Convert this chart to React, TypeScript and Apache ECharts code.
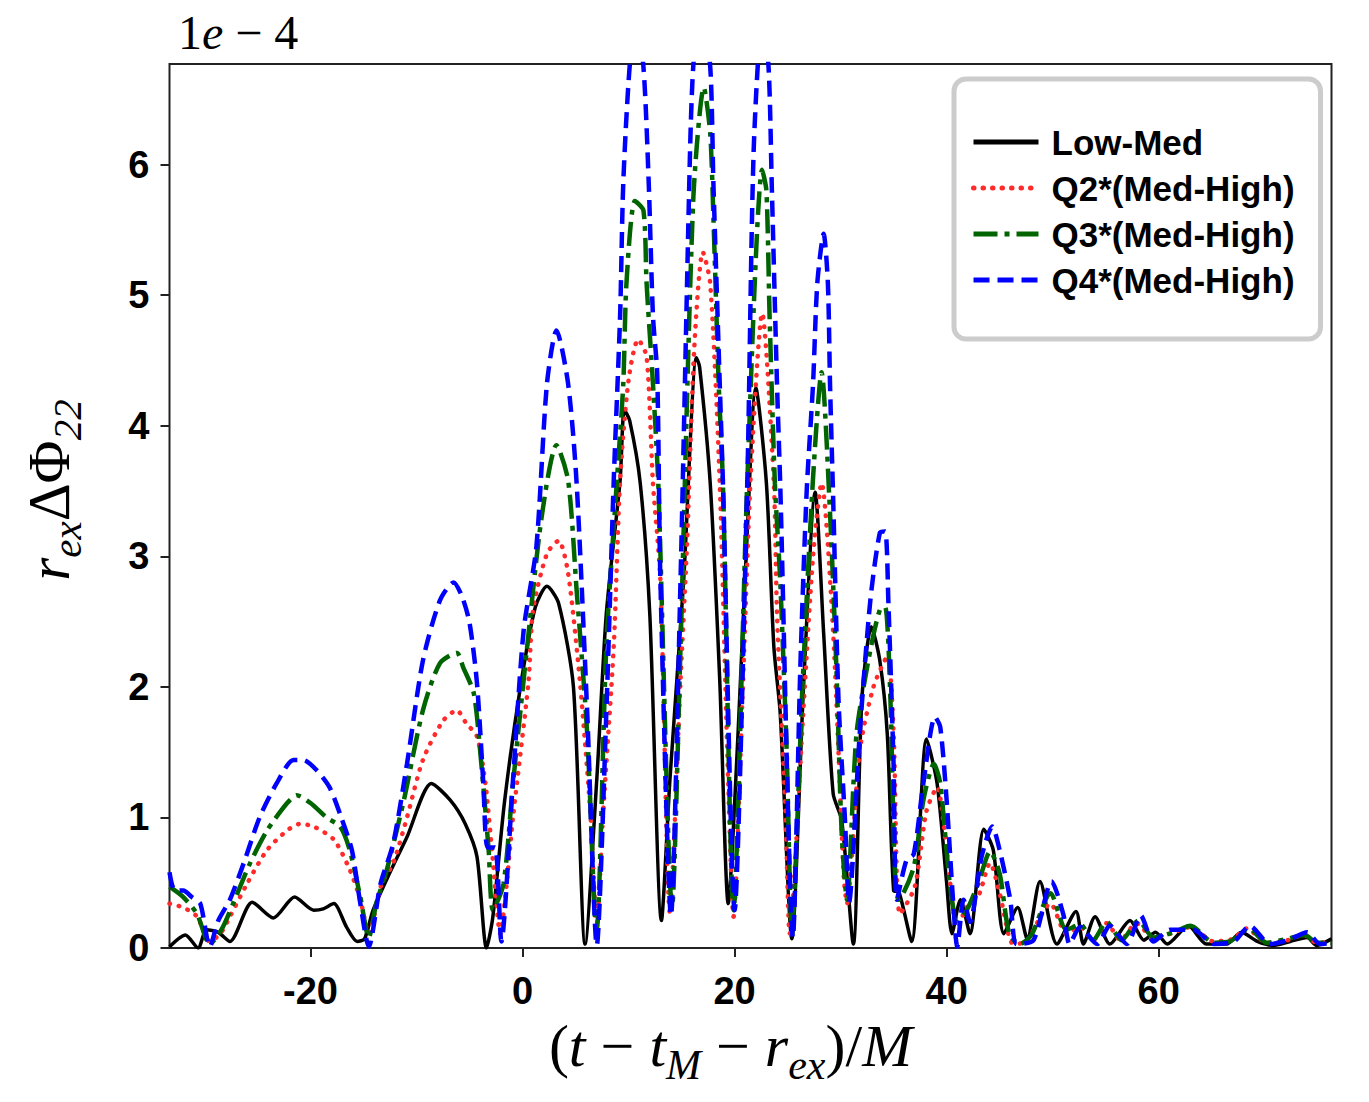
import React, { useEffect, useRef } from "react";
import * as echarts from "echarts";

// ---- data (t in M, value in units of 1e-4) ----
const lowMedT = [-33.3, -31.8, -30.6, -29.8, -28.7, -27.6, -25.5, -23.5, -21.5, -19.7, -18.8, -17.8, -16.6, -15.6, -14.9, -14.1, -12.5, -10.9, -8.6, -6.8, -5.4, -4.3, -3.4, -2.8, -1.7, -0.2, 1.2, 2.3, 3.4, 4.8, 5.9, 7.0, 7.9, 9.2, 9.6, 10.1, 11.1, 12.0, 13.1, 13.9, 15.2, 16.4, 16.7, 17.7, 18.6, 19.4, 20.3, 21.2, 22.0, 23.0, 23.7, 24.3, 25.4, 26.5, 27.6, 28.4, 29.3, 30.1, 31.2, 32.0, 32.9, 33.7, 34.4, 35.0, 35.5, 36.7, 38.1, 39.1, 40.0, 40.5, 41.3, 42.2, 43.5, 44.4, 45.4, 46.7, 47.6, 48.8, 50.4, 52.2, 52.9, 54.0, 55.4, 57.3, 58.6, 59.7, 60.8, 62.8, 64.5, 66.4, 67.8, 69.3, 70.8, 72.4, 74.0, 74.9, 76.3];
const lowMedV = [0.01, 0.1, 0.0, 0.14, 0.12, 0.05, 0.35, 0.23, 0.39, 0.29, 0.3, 0.34, 0.16, 0.05, 0.07, 0.29, 0.58, 0.85, 1.26, 1.13, 0.95, 0.7, 0.0, 0.24, 1.12, 2.0, 2.61, 2.77, 2.64, 2.0, 0.03, 1.29, 2.56, 3.58, 4.12, 4.04, 3.56, 2.56, 0.21, 1.29, 2.82, 4.52, 4.45, 3.56, 2.05, 0.34, 1.6, 3.2, 4.29, 3.56, 2.31, 1.8, 0.07, 2.0, 3.49, 2.41, 1.18, 0.98, 0.03, 1.9, 2.46, 2.2, 1.64, 0.44, 0.43, 0.05, 1.6, 1.26, 0.5, 0.11, 0.37, 0.11, 0.91, 0.75, 0.11, 0.31, 0.07, 0.51, 0.03, 0.28, 0.03, 0.24, 0.03, 0.21, 0.06, 0.12, 0.03, 0.17, 0.03, 0.03, 0.12, 0.05, 0.02, 0.05, 0.08, 0.02, 0.07];

const q2T = [-33.3, -32.0, -30.7, -29.5, -28.5, -27.6, -26.0, -24.1, -22.2, -21.0, -19.7, -17.8, -16.3, -15.3, -14.5, -14.1, -13.3, -12.2, -10.9, -9.4, -7.5, -6.2, -5.3, -4.3, -3.5, -2.8, -2.1, -1.65, -0.9, 0.55, 1.0, 2.3, 3.4, 4.3, 5.4, 6.4, 7.0, 7.6, 8.6, 9.2, 10.0, 10.9, 11.7, 12.3, 13.0, 13.9, 14.9, 15.5, 16.2, 17.0, 17.7, 18.6, 19.3, 19.9, 20.8, 21.5, 22.6, 23.7, 24.0, 24.8, 25.2, 26.4, 27.4, 28.2, 29.3, 30.3, 30.6, 31.8, 33.1, 34.4, 35.0, 35.6, 37.0, 38.1, 39.1, 40.0, 41.0, 41.9, 43.0, 44.1, 45.0, 46.3, 47.5, 49.8, 51.3, 52.6, 53.8, 55.1, 56.4, 57.9, 59.5, 61.1, 63.0, 65.2, 67.0, 68.3, 70.2, 71.8, 73.7, 74.9, 76.3];
const q2V = [0.34, 0.31, 0.24, 0.05, 0.11, 0.24, 0.49, 0.75, 0.9, 0.95, 0.93, 0.83, 0.6, 0.37, 0.11, 0.21, 0.49, 0.65, 1.0, 1.44, 1.74, 1.82, 1.72, 1.62, 1.26, 0.67, 0.11, 0.37, 1.0, 2.03, 2.59, 3.02, 3.12, 2.87, 2.05, 1.03, 0.19, 1.03, 2.31, 3.58, 4.35, 4.66, 4.53, 3.56, 2.82, 0.27, 2.05, 3.07, 4.6, 5.33, 5.09, 3.56, 1.54, 0.24, 2.05, 3.58, 4.86, 3.56, 2.56, 1.03, 0.11, 1.7, 3.0, 3.56, 2.41, 0.54, 0.34, 1.51, 2.0, 2.23, 1.64, 0.26, 0.47, 1.05, 1.23, 0.75, 0.16, 0.31, 0.4, 0.65, 0.42, 0.03, 0.05, 0.34, 0.11, 0.16, 0.06, 0.19, 0.06, 0.19, 0.08, 0.11, 0.16, 0.05, 0.07, 0.15, 0.04, 0.05, 0.1, 0.04, 0.05];

const q3T = [-33.3, -32.0, -30.7, -29.5, -28.4, -27.3, -25.7, -24.1, -22.2, -21.3, -20.0, -18.5, -17.2, -16.3, -15.3, -14.5, -13.8, -12.8, -11.2, -9.4, -7.8, -6.2, -5.6, -4.6, -4.0, -3.2, -2.8, -1.8, -0.9, 0.4, 1.8, 3.2, 4.3, 5.1, 6.1, 6.8, 7.0, 7.9, 8.9, 9.5, 9.8, 10.6, 11.4, 11.7, 12.3, 12.8, 14.1, 14.9, 16.1, 17.1, 17.7, 18.0, 18.5, 18.9, 19.9, 21.2, 22.6, 23.0, 23.3, 23.8, 24.3, 24.9, 25.4, 26.4, 27.4, 28.2, 29.0, 29.6, 30.1, 30.6, 31.5, 32.8, 33.7, 34.2, 34.7, 35.1, 35.5, 36.9, 37.8, 38.8, 39.4, 40.3, 41.0, 41.9, 43.0, 44.1, 45.0, 45.9, 46.9, 48.0, 49.8, 51.3, 52.6, 53.8, 55.1, 56.5, 58.1, 59.5, 61.4, 63.0, 65.2, 66.7, 68.5, 70.2, 72.1, 73.8, 74.9, 76.3];
const q3V = [0.47, 0.39, 0.26, 0.03, 0.14, 0.34, 0.65, 0.9, 1.11, 1.17, 1.11, 1.0, 0.93, 0.75, 0.39, 0.08, 0.34, 0.6, 1.13, 1.82, 2.18, 2.26, 2.15, 1.95, 1.51, 0.75, 0.29, 0.49, 1.26, 2.28, 3.3, 3.85, 3.58, 2.74, 1.64, 0.27, 0.15, 2.31, 3.58, 4.32, 5.09, 5.72, 5.65, 5.09, 4.32, 3.56, 0.31, 2.31, 5.73, 6.59, 6.24, 5.6, 4.32, 3.56, 0.29, 3.58, 5.96, 5.8, 4.84, 3.56, 2.82, 1.54, 0.14, 2.0, 3.6, 4.41, 3.33, 2.15, 0.88, 0.37, 1.64, 2.28, 2.59, 2.61, 1.9, 0.62, 0.37, 0.62, 1.13, 1.41, 1.26, 0.49, 0.21, 0.29, 0.5, 0.74, 0.57, 0.11, 0.03, 0.1, 0.42, 0.14, 0.18, 0.06, 0.2, 0.06, 0.21, 0.08, 0.12, 0.17, 0.04, 0.05, 0.15, 0.04, 0.07, 0.1, 0.04, 0.04];

const q4T = [-33.3, -32.8, -32.0, -31.2, -30.4, -29.5, -28.7, -27.6, -26.3, -24.8, -23.2, -21.6, -20.7, -19.4, -18.2, -17.1, -16.1, -15.3, -14.5, -13.4, -12.2, -10.9, -9.4, -7.8, -6.5, -5.7, -5.0, -4.3, -3.7, -3.3, -2.6, -2.0, -0.9, 0.1, 1.3, 2.3, 3.2, 4.3, 5.1, 6.1, 7.0, 7.9, 8.6, 9.2, 9.5, 10.1, 10.7, 11.4, 11.9, 12.3, 12.7, 13.0, 14.0, 14.9, 15.8, 16.1, 16.8, 17.7, 18.0, 18.6, 18.9, 20.0, 21.2, 21.8, 22.6, 23.2, 23.5, 24.0, 24.3, 25.5, 26.2, 26.8, 27.4, 27.8, 28.4, 28.8, 29.0, 29.3, 29.8, 30.4, 30.8, 31.8, 32.8, 33.7, 34.2, 34.5, 35.0, 35.3, 36.2, 36.9, 37.8, 38.9, 39.4, 40.0, 40.6, 41.0, 41.6, 42.2, 43.3, 44.3, 45.0, 46.0, 46.6, 48.2, 49.9, 51.0, 51.6, 52.6, 54.2, 55.4, 57.0, 58.3, 59.5, 61.1, 63.3, 65.2, 67.1, 68.6, 70.5, 72.2, 74.0, 75.2, 76.3];
const q4V = [0.58, 0.44, 0.44, 0.39, 0.34, 0.01, 0.21, 0.37, 0.65, 1.0, 1.26, 1.44, 1.44, 1.36, 1.23, 1.0, 0.75, 0.34, 0.01, 0.49, 0.8, 1.41, 2.2, 2.66, 2.8, 2.69, 2.49, 2.03, 1.26, 0.77, 0.77, 0.05, 1.29, 2.43, 3.07, 4.32, 4.73, 4.32, 3.56, 1.8, 0.02, 1.8, 3.58, 4.84, 5.86, 6.75, 7.1, 6.75, 5.86, 4.84, 4.4, 2.82, 0.25, 2.82, 6.11, 6.75, 7.3, 6.75, 5.86, 4.32, 3.56, 0.29, 3.58, 6.11, 7.1, 6.75, 5.86, 4.32, 3.56, 0.08, 2.15, 3.5, 4.32, 5.09, 5.47, 5.09, 4.32, 3.43, 1.9, 1.0, 0.35, 1.64, 2.66, 3.18, 3.19, 2.66, 1.39, 0.37, 0.67, 0.72, 1.26, 1.77, 1.69, 1.13, 0.37, 0.01, 0.37, 0.2, 0.7, 0.93, 0.75, 0.37, 0.03, 0.06, 0.51, 0.26, 0.03, 0.16, 0.03, 0.17, 0.03, 0.25, 0.05, 0.14, 0.14, 0.03, 0.05, 0.17, 0.03, 0.06, 0.12, 0.03, 0.04];

const seriesNames = ["Low-Med", "Q2*(Med-High)", "Q3*(Med-High)", "Q4*(Med-High)"];
const xTicks = [-20, 0, 20, 40, 60];
const yTicks = [0, 1, 2, 3, 4, 5, 6];
const xRange = [-33.3, 76.3];
const yRange = [0, 6.77];

const pairs = (t: number[], v: number[]) => t.map((x, i) => [x, v[i]]);

const SANS = "'Liberation Sans', Arial, Helvetica, sans-serif";
const SERIF = "'Liberation Serif', 'Times New Roman', serif";

export default function App() {
  const ref = useRef<HTMLDivElement>(null);
  useEffect(() => {
    if (!ref.current) return;
    const chart = echarts.init(ref.current, null, { renderer: "svg" });
    const mathRich = (size: number, sub: number, shift: number) => ({
      n: { fontFamily: SERIF, fontSize: size, fontStyle: "normal", color: "#000" },
      i: { fontFamily: SERIF, fontSize: size, fontStyle: "italic", color: "#000" },
      s: { fontFamily: SERIF, fontSize: sub, fontStyle: "italic", color: "#000", padding: [shift, 0, 0, 0] },
    });
    const tickLine = { show: true, length: 9, inside: false, lineStyle: { color: "#222", width: 2 } };
    const lineSeries = (i: number, t: number[], v: number[], color: string, lineStyle: any) => ({
      name: seriesNames[i],
      type: "line",
      data: pairs(t, v),
      showSymbol: false,
      symbol: "none",
      smooth: 0.25,
      lineStyle: { color, ...lineStyle },
      itemStyle: { color },
    });
    chart.setOption({
      animation: false,
      backgroundColor: "#ffffff",
      grid: {
        left: 169.5,
        top: 64,
        width: 1162,
        height: 884,
        show: true,
        borderColor: "#222",
        borderWidth: 2,
        backgroundColor: "transparent",
      },
      xAxis: {
        type: "value",
        min: xRange[0],
        max: xRange[1],
        axisLine: { show: false, onZero: false },
        splitLine: { show: false },
        axisTick: { ...tickLine, customValues: xTicks },
        axisLabel: {
          customValues: xTicks,
          margin: 24,
          fontSize: 38,
          lineHeight: 38,
          color: "#000",
          fontWeight: "bold",
          fontFamily: SANS,
          formatter: (v: number) => String(v),
        },
        name: "{n|(}{i|t}{n| − }{i|t}{s|M}{n| − }{i|r}{s|ex}{n|)/}{i|M}",
        nameLocation: "middle",
        nameGap: 58,
        nameTextStyle: { padding: [0, 40, 0, 0], rich: mathRich(60, 42, 38) },
      },
      yAxis: {
        type: "value",
        min: yRange[0],
        max: yRange[1],
        axisLine: { show: false, onZero: false },
        splitLine: { show: false },
        axisTick: { ...tickLine, customValues: yTicks },
        axisLabel: {
          customValues: yTicks,
          margin: 20,
          fontSize: 38,
          lineHeight: 38,
          color: "#000",
          fontWeight: "bold",
          fontFamily: SANS,
          formatter: (v: number) => String(v),
        },
        name: "{i|r}{s|ex}{n|ΔΦ}{s|22}",
        nameLocation: "middle",
        nameRotate: 90,
        nameGap: 82,
        nameTextStyle: { padding: [0, 0, 0, 32], rich: mathRich(59, 41, 36) },
      },
      legend: {
        orient: "vertical",
        left: 954,
        top: 79,
        data: seriesNames,
        selectedMode: false,
        itemWidth: 65,
        itemHeight: 14,
        itemGap: 0,
        padding: [40, 26, 36, 17],
        backgroundColor: "#ffffff",
        borderColor: "#cccccc",
        borderWidth: 5,
        borderRadius: 12,
        itemStyle: { opacity: 0, borderWidth: 0 },
        lineStyle: { width: 5 },
        textStyle: { fontSize: 35, lineHeight: 46, color: "#000", fontWeight: "bold", fontFamily: SANS, padding: [0, 0, 0, 8] },
      },
      graphic: [
        {
          type: "text",
          left: 178,
          top: 8,
          style: {
            text: "{n|1}{i|e}{n| − 4}",
            rich: {
              n: { fontFamily: SERIF, fontSize: 48, fontStyle: "normal", fill: "#000" },
              i: { fontFamily: SERIF, fontSize: 48, fontStyle: "italic", fill: "#000" },
            },
          },
        },
      ],
      series: [
        lineSeries(0, lowMedT, lowMedV, "#000000", { width: 3.5, type: "solid" }),
        lineSeries(1, q2T, q2V, "#ff2a2a", { width: 4.5, type: [0.5, 9], cap: "round" }),
        lineSeries(2, q3T, q3V, "#006400", { width: 4.5, type: [24, 7, 5, 7] }),
        lineSeries(3, q4T, q4V, "#0000ff", { width: 4.5, type: [16, 8] }),
      ],
    });
    return () => chart.dispose();
  }, []);
  return (
    <div
      ref={ref}
      style={{ position: "absolute", left: 0, top: 0, width: 1369, height: 1102, background: "#fff" }}
    />
  );
}
